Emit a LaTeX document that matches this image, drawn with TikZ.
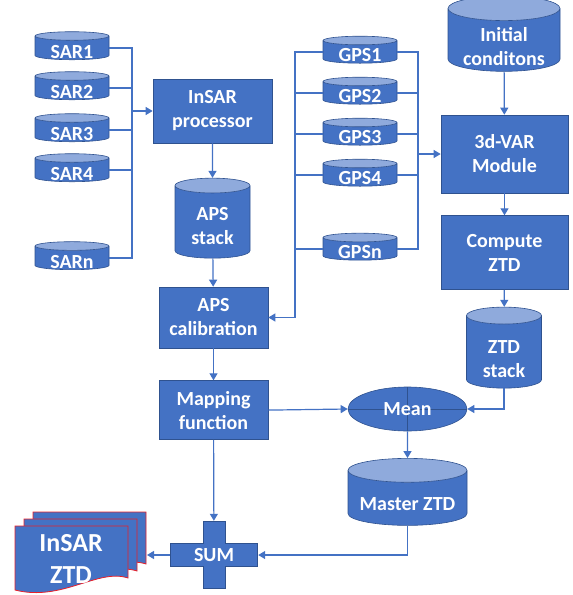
\documentclass[tikz,border=0pt]{standalone}
\usepackage{fontspec}
\setmainfont{Carlito}
\usepackage{xcolor}
\usetikzlibrary{shapes,arrows,arrows.meta,positioning,calc}

\definecolor{boxblue}{HTML}{4472C4}
\definecolor{edgeblue}{HTML}{2F528F}
\definecolor{capblue}{HTML}{8FAADC}
\definecolor{pagered}{HTML}{E8202A}

% text sits below the cylinder cap
\newcommand{\capdrop}[2]{\raisebox{-#1}[\height][\depth]{#2}}

\begin{document}
\begin{tikzpicture}[
        x=1pt, y=-1pt,
        font=\bfseries\fontsize{20}{24}\selectfont,
        process/.style={rectangle, draw=edgeblue, fill=boxblue, text=white, align=center, line width=0.6pt, minimum width=109pt, minimum height=60pt, inner sep=2pt},
        store/.style={cylinder, shape border rotate=90, cylinder uses custom fill, cylinder body fill=boxblue, cylinder end fill=capblue, draw=edgeblue, text=white, align=center, line width=0.6pt, inner sep=0pt},
        sensor/.style={store, minimum width=74pt, minimum height=28pt, aspect=0.2},
        link/.style={draw=boxblue, line width=1.2pt},
        arrow/.style={link, -{Triangle[length=7pt,width=8pt]}},
        crossline/.style={draw=edgeblue, line width=0.6pt},
        page/.style={draw=pagered, fill=boxblue, line width=0.8pt}
    ]
    \useasboundingbox (0,0) rectangle (573,595);

    % SAR acquisitions
    \node [sensor] (sar1) at (72,48) {\capdrop{4.5pt}{SAR1}};
    \node [sensor] (sar2) at (72,88) {\capdrop{4.5pt}{SAR2}};
    \node [sensor] (sar3) at (72,130) {\capdrop{4.5pt}{SAR3}};
    \node [sensor] (sar4) at (72,170) {\capdrop{4.5pt}{SAR4}};
    \node [sensor] (sarn) at (72,258) {\capdrop{4.5pt}{SARn}};
    \coordinate (sarbus) at (132,111);

    % InSAR branch
    \node [process, minimum width=119pt, minimum height=64pt] (insar) at (212.5,111) {InSAR\\processor};
    \node [store, minimum width=75pt, minimum height=80pt, aspect=0.35] (apsstack) at (212.5,222) {\capdrop{4pt}{APS}\\\capdrop{4pt}{stack}};
    \node [process, minimum height=61pt] (apscal) at (213.5,317.5) {APS\\calibration};
    \node [process, minimum height=59pt, below=32pt of apscal] (mapping) {Mapping\\function};

    % GPS stations
    \node [sensor, minimum height=27pt] (gps1) at (360,52) {\capdrop{3pt}{GPS1}};
    \node [sensor, minimum height=27pt] (gps2) at (360,93) {\capdrop{3pt}{GPS2}};
    \node [sensor, minimum height=27pt] (gps3) at (360,134) {\capdrop{3pt}{GPS3}};
    \node [sensor, minimum height=27pt] (gps4) at (360,175) {\capdrop{3pt}{GPS4}};
    \node [sensor, minimum height=27pt] (gpsn) at (360,249) {\capdrop{3pt}{GPSn}};
    \coordinate (gpsbus) at (418,154);
    \coordinate (gpsleft) at (295,317.5);

    % 3d-VAR branch
    \node [store, minimum width=112pt, minimum height=71pt, aspect=0.3] (initial) at (504,40) {\capdrop{6.5pt}{Initial}\\\capdrop{6.5pt}{conditons}};
    \node [process, minimum width=127pt, minimum height=78pt] (var3d) at (504.5,154) {3d-VAR\\Module};
    \node [process, minimum width=127pt, minimum height=74pt, below=22pt of var3d] (compute) {Compute\\ZTD};
    \node [store, minimum width=75pt, minimum height=81pt, aspect=0.4] (ztdstack) at (504,352) {\capdrop{7pt}{ZTD}\\\capdrop{7pt}{stack}};

    \node [ellipse, draw=edgeblue, fill=boxblue, text=white, line width=0.6pt, minimum width=119pt, minimum height=44pt, inner sep=0pt,
           path picture={\draw [crossline] (path picture bounding box.north) -- (path picture bounding box.south)
                                           (path picture bounding box.west) -- (path picture bounding box.east);}] (mean) at (407.5,409) {Mean};
    \node [store, minimum width=119pt, minimum height=67pt, aspect=0.25] (master) at (407.5,498) {\capdrop{6pt}{Master ZTD}};

    % summation and output
    \node [minimum width=88pt, minimum height=68pt, inner sep=0pt, text=white,
           path picture={\filldraw [draw=edgeblue, fill=boxblue, line width=0.6pt] (path picture bounding box.center) ++(-11,-33.5) -- ++(22,0) -- ++(0,22) -- ++(32.5,0) -- ++(0,23) -- ++(-32.5,0) -- ++(0,22) -- ++(-22,0) -- ++(0,-22) -- ++(-32.5,0) -- ++(0,-23) -- ++(32.5,0) -- cycle;}] (sum) at (214,555) {SUM};

    \foreach \dx/\dy in {18/-14, 9/-7, 0/0}
        \filldraw [page, shift={(\dx,\dy)}] (15,526) -- (128,526) -- (128,578) .. controls (98,568) and (62,602) .. (15,590) -- cycle;
    \node [text=white, align=center, font=\bfseries\fontsize{26}{32}\selectfont] (insarztd) at (71,559) {InSAR\\ZTD};
    \coordinate (docs) at (147,555);

    % connectors
    \foreach \s in {sar1,sar2,sar3,sar4,sarn}
        \path [link] (\s.east) -| (sarbus);
    \path [arrow] (sarbus) -- (insar.west);
    \path [arrow] (insar) -- (apsstack);
    \path [arrow] (apsstack) -- (apscal);
    \path [arrow] (apscal) -- (mapping);

    \foreach \g in {gps1,gps2,gps3,gps4,gpsn} {
        \path [link] (\g.east) -| (gpsbus);
        \path [link] (\g.west) -| (gpsleft);
    }
    \path [arrow] (gpsbus) -- (var3d.west);
    \path [arrow] (gpsleft) -- (apscal.east);

    \path [arrow] (initial) -- (var3d);
    \path [arrow] (var3d) -- (compute);
    \path [arrow] (compute) -- (ztdstack);
    \path [arrow] (ztdstack.south) |- (mean.east);
    \path [arrow] (mapping.east) -- (mean.west);
    \path [arrow] (mean) -- (master);
    \path [arrow] (master.south) |- (sum.east);
    \path [arrow] (mapping) -- (sum);
    \path [arrow] (sum.west) -- (docs);

\end{tikzpicture}
\end{document}
